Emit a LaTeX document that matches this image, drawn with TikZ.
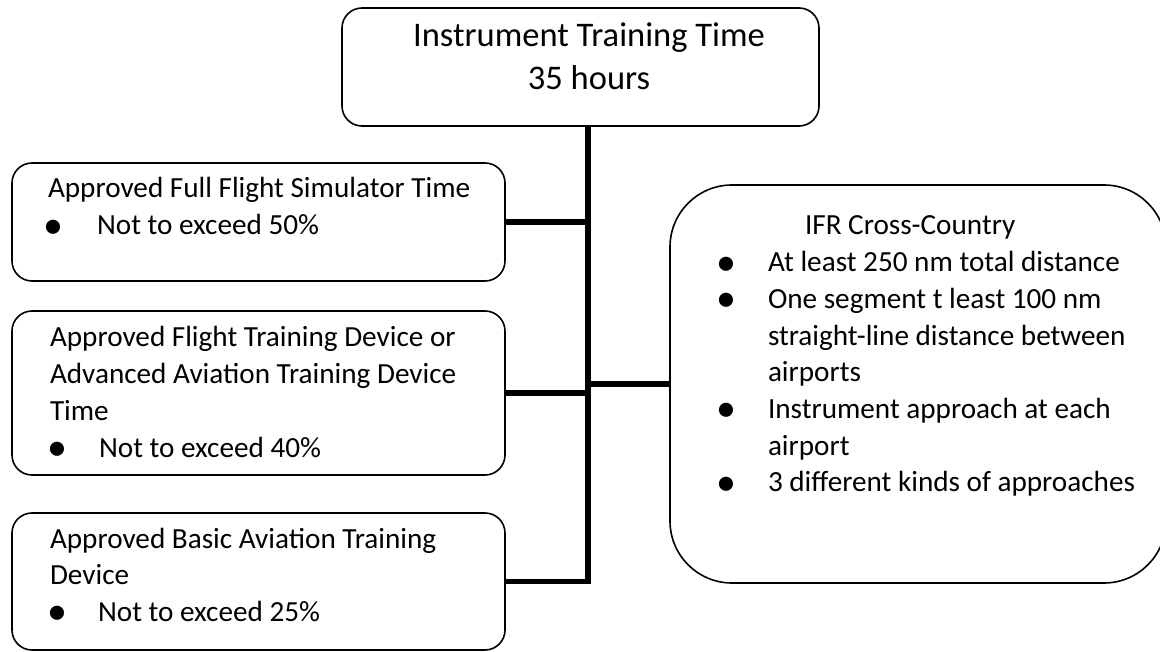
\documentclass[tikz,border=0pt]{standalone}
\usepackage{fontspec}
\setmainfont{Carlito}
\newcommand\bul[1]{\llap{\makebox[0pt][c]{\raisebox{-3.5pt}{\fontsize{40}{40}\selectfont\textbullet}}\hspace{#1}}}
\newcommand\lineset[2]{\vtop{\baselineskip=#1\lineskiplimit=-100pt\lineskip=0pt #2}}
\tikzset{
  box/.style={draw, line width=1.6pt, rounded corners=20pt, inner sep=0pt, outer sep=0pt},
  conn/.style={line width=5.5pt, line join=miter},
  txt/.style={inner sep=0pt, outer sep=0pt, anchor=base west, font=\fontsize{29.2}{36.7}\selectfont},
  toptxt/.style={inner sep=0pt, outer sep=0pt, anchor=base, font=\fontsize{34.5}{43}\selectfont},
}
\begin{document}
\begin{tikzpicture}[x=1pt,y=-1pt]
\useasboundingbox (0,0) rectangle (1160,652);
\clip (0,0) rectangle (1160,652);
% boxes
\node[box, minimum width=477pt, minimum height=118pt] (top) at (580.5,67) {};
\node[box, minimum width=493pt, minimum height=118pt] (b1) at (258.5,222) {};
\node[box, minimum width=493pt, minimum height=164pt] (b2) at (258.5,393) {};
\node[box, minimum width=493pt, minimum height=137pt] (b3) at (258.5,581.5) {};
\node[box, rounded corners=62pt, minimum width=496pt, minimum height=398pt] (rb) at (918,384) {};
% trunk
\coordinate (trunk) at (588,583);
\draw[conn] (b3.east) -- (b3.east -| trunk) -- (top.south -| trunk);
\draw[conn] (b1.east) -- (b1.east -| trunk);
\draw[conn] (b2.east) -- (b2.east -| trunk);
\draw[conn] (rb.west) -- (rb.west -| trunk);
% texts
\node[toptxt] (toptext) at (589,46.7) {\lineset{43pt}{\halign{\hfil#\hfil\cr Instrument Training Time\cr 35 hours\cr}}};
\node[txt] (t1) at (48,198) {\lineset{36.7pt}{%
  \hbox{Approved Full Flight Simulator Time}%
  \hbox{\hspace{49pt}\bul{44pt}Not to exceed 50\%}}};
\node[txt] (t2) at (50,347) {\lineset{36.7pt}{%
  \hbox{Approved Flight Training Device or}%
  \hbox{Advanced Aviation Training Device}%
  \hbox{Time}%
  \hbox{\hspace{49pt}\bul{42pt}Not to exceed 40\%}}};
\node[txt] (t3) at (50,548) {\lineset{36.7pt}{%
  \hbox{Approved Basic Aviation Training}%
  \hbox{Device}%
  \hbox{\hspace{48pt}\bul{41pt}Not to exceed 25\%}}};
\node[txt] (t4) at (768,235) {\lineset{36.7pt}{%
  \hbox{\hspace{37pt}IFR Cross-Country}%
  \hbox{\bul{42pt}At least 250 nm total distance}%
  \hbox{\bul{42pt}One segment t least 100 nm}%
  \hbox{straight-line distance between}%
  \hbox{airports}%
  \hbox{\bul{42pt}Instrument approach at each}%
  \hbox{airport}%
  \hbox{\bul{42pt}3 different kinds of approaches}}};
\end{tikzpicture}
\end{document}
